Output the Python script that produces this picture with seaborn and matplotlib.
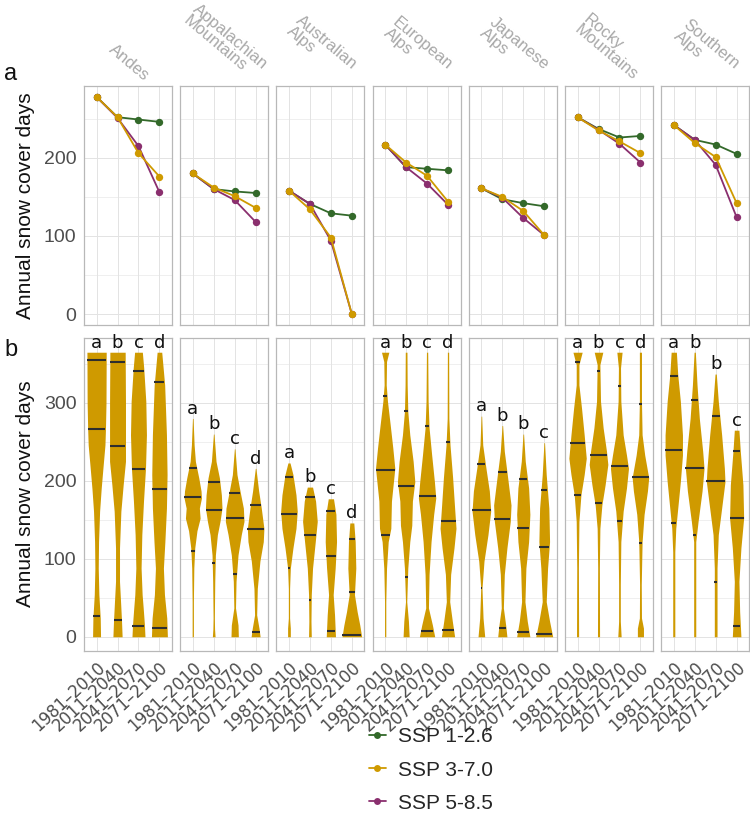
import numpy as np
import pandas as pd
import matplotlib
matplotlib.use("Agg")
import matplotlib.pyplot as plt
import seaborn as sns
from matplotlib.lines import Line2D

# ---------------- data ----------------
regions = ["Andes", "Appalachian\nMountains", "Australian\nAlps", "European\nAlps",
           "Japanese\nAlps", "Rocky\nMountains", "Southern\nAlps"]
periods = ["1981–2010", "2011–2040", "2041–2070", "2071–2100"]
scenarios = ["SSP 1-2.6", "SSP 3-7.0", "SSP 5-8.5"]

# panel a: mean annual snow cover days per region (rows) and period (cols)
ssp126 = [[278, 252, 249, 246], [180, 160, 157, 155], [158, 141, 129, 126],
          [217, 188, 186, 184], [161, 147, 142, 138], [252, 237, 226, 228],
          [242, 223, 217, 205]]
ssp370 = [[278, 252, 206, 176], [180, 162, 151, 136], [158, 134, 98, 0],
          [217, 194, 177, 144], [161, 150, 132, 101], [252, 235, 221, 206],
          [242, 219, 201, 142]]
ssp585 = [[278, 251, 215, 156], [180, 160, 146, 118], [158, 141, 94, 0],
          [217, 188, 167, 140], [161, 149, 123, 101], [252, 236, 218, 194],
          [242, 223, 191, 124]]

# panel b: violin outlines as (days, relative width)
violin_profiles = {
    "Andes": [
        [(0, .38), (24, .35), (54, .22), (88, .16), (122, .19), (161, .29), (190, .44), (220, .63), (246, .80), (267, .85), (300, .90), (365, .92)],
        [(0, .44), (21, .38), (45, .29), (71, .19), (114, .19), (161, .32), (195, .54), (225, .76), (300, .76), (365, .73)],
        [(0, .62), (15, .57), (37, .45), (54, .35), (88, .25), (131, .32), (174, .48), (216, .67), (259, .76), (302, .70), (345, .50), (365, .37)],
        [(0, .76), (24, .70), (54, .48), (88, .38), (122, .52), (165, .67), (208, .73), (259, .67), (323, .50), (365, .22)],
    ],
    "Appalachian\nMountains": [
        [(0, .06), (45, .06), (88, .10), (114, .19), (136, .40), (152, .70), (165, .63), (178, .83), (187, .79), (204, .57), (225, .25), (246, .13), (280, .03)],
        [(0, .13), (10, .08), (24, .06), (71, .10), (105, .16), (131, .35), (148, .60), (165, .79), (182, .73), (204, .54), (225, .22), (260, .03)],
        [(0, .35), (15, .32), (37, .08), (71, .13), (105, .32), (131, .63), (148, .89), (165, .83), (187, .51), (208, .22), (241, .03)],
        [(0, .43), (11, .32), (28, .10), (62, .16), (97, .41), (122, .73), (139, .79), (165, .54), (187, .29), (216, .03)],
    ],
    "Australian\nAlps": [
        [(0, .13), (11, .13), (24, .06), (62, .06), (88, .13), (114, .38), (139, .67), (161, .79), (182, .67), (208, .38), (223, .10)],
        [(0, .13), (20, .10), (54, .13), (88, .25), (122, .51), (148, .70), (174, .54), (192, .25)],
        [(0, .44), (28, .35), (54, .22), (88, .41), (122, .54), (157, .48), (177, .25)],
        [(0, .94), (15, .76), (32, .51), (54, .25), (88, .38), (122, .32), (146, .19)],
    ],
    "European\nAlps": [
        [(0, .06), (45, .06), (88, .13), (122, .29), (139, .54), (174, .60), (199, .79), (216, .92), (242, .73), (272, .48), (302, .22), (323, .10), (353, .13), (365, .35)],
        [(0, .29), (20, .22), (45, .06), (88, .16), (122, .35), (143, .54), (174, .60), (199, .83), (225, .67), (259, .35), (289, .16), (323, .10), (365, .08)],
        [(0, .73), (15, .51), (37, .13), (80, .19), (122, .38), (157, .63), (178, .83), (199, .70), (233, .44), (268, .19), (302, .10), (365, .06)],
        [(0, .63), (20, .41), (45, .16), (80, .25), (114, .57), (139, .76), (165, .63), (204, .44), (246, .19), (280, .08), (365, .06)],
    ],
    "Japanese\nAlps": [
        [(0, .32), (24, .16), (62, .06), (97, .25), (131, .63), (161, .89), (187, .76), (216, .44), (246, .13), (283, .03)],
        [(0, .44), (15, .32), (37, .10), (80, .19), (114, .44), (148, .76), (169, .83), (204, .51), (238, .19), (271, .03)],
        [(0, .63), (20, .38), (45, .16), (88, .25), (122, .51), (157, .63), (191, .51), (225, .19), (260, .03)],
        [(0, .81), (20, .51), (45, .19), (88, .32), (122, .51), (165, .44), (208, .19), (249, .03)],
    ],
    "Rocky\nMountains": [
        [(0, .10), (88, .08), (148, .13), (182, .32), (208, .63), (229, .83), (259, .63), (293, .38), (323, .13), (349, .13), (365, .44)],
        [(0, .10), (88, .08), (139, .13), (169, .32), (195, .63), (221, .89), (238, .76), (268, .44), (302, .19), (349, .13), (365, .41)],
        [(0, .16), (20, .08), (67, .08), (122, .13), (161, .35), (191, .67), (216, .86), (233, .67), (259, .35), (302, .13), (345, .10), (365, .25)],
        [(0, .29), (11, .29), (24, .10), (67, .08), (122, .16), (157, .35), (187, .67), (204, .79), (233, .41), (259, .16), (302, .10), (365, .10)],
    ],
    "Southern\nAlps": [
        [(0, .10), (109, .10), (139, .19), (165, .38), (199, .63), (233, .83), (259, .83), (302, .63), (336, .38), (365, .25)],
        [(0, .10), (122, .10), (148, .32), (187, .70), (216, .89), (238, .76), (280, .44), (323, .22), (365, .06)],
        [(0, .13), (88, .13), (131, .25), (165, .57), (199, .89), (216, .83), (259, .57), (302, .25), (337, .06)],
        [(0, .41), (32, .29), (71, .22), (114, .41), (152, .67), (195, .60), (238, .35), (265, .22)],
    ],
}

# quantile lines (5 %, 50 %, 95 %) per region and period
violin_quantiles = {
    "Andes": [(27, 266, 355), (21, 245, 353), (14, 215, 341), (11, 189, 327)],
    "Appalachian\nMountains": [(110, 179, 217), (95, 163, 199), (80, 152, 184), (6, 138, 169)],
    "Australian\nAlps": [(88, 158, 205), (47, 130, 179), (7, 104, 161), (2, 58, 125)],
    "European\nAlps": [(131, 214, 309), (77, 194, 290), (8, 180, 271), (9, 148, 250)],
    "Japanese\nAlps": [(62, 162, 221), (11, 151, 212), (6, 139, 203), (4, 115, 188)],
    "Rocky\nMountains": [(182, 248, 353), (171, 233, 341), (149, 219, 322), (120, 205, 298)],
    "Southern\nAlps": [(146, 239, 335), (130, 217, 304), (70, 200, 283), (14, 152, 238)],
}

# significance letters
letters = {
    "Andes": ["a", "b", "c", "d"],
    "Appalachian\nMountains": ["a", "b", "c", "d"],
    "Australian\nAlps": ["a", "b", "c", "d"],
    "European\nAlps": ["a", "b", "c", "d"],
    "Japanese\nAlps": ["a", "b", "b", "c"],
    "Rocky\nMountains": ["a", "b", "c", "d"],
    "Southern\nAlps": ["a", "b", "b", "c"],
}

# ---------------- style ----------------
GREEN, GOLD, PURPLE = "#33692A", "#CF9A00", "#8A2F6E"
palette = {"SSP 1-2.6": GREEN, "SSP 3-7.0": GOLD, "SSP 5-8.5": PURPLE}
BORDER = "#B8B8B8"
GRID = "#E3E3E3"
TICKTXT = "#4D4D4D"

sns.set_theme(style="white")
plt.rcParams["font.family"] = ["Liberation Sans", "DejaVu Sans"]

W, H = 750, 822
fig = plt.figure(figsize=(W / 100, H / 100), dpi=100)

pan_left0, pan_step, pan_w = 84, 96.2, 88
top_y0, top_y1 = 86, 325
bot_y0, bot_y1 = 338, 651


def axrect(i, y0, y1):
    return [(pan_left0 + pan_step * i) / W, 1 - y1 / H, pan_w / W, (y1 - y0) / H]


def style_axis(ax, first, show_xlabels, yticks, yminor):
    ax.set_xlim(-0.6, 3.6)
    ax.set_xticks(range(4))
    ax.set_yticks(yticks)
    ax.set_yticks(yminor, minor=True)
    ax.grid(True, which="major", color=GRID, lw=0.7, zorder=0)
    ax.yaxis.grid(True, which="minor", color=GRID, lw=0.4, zorder=0)
    ax.set_axisbelow(True)
    for s in ax.spines.values():
        s.set_color(BORDER)
        s.set_linewidth(0.9)
    ax.tick_params(axis="both", which="major", length=3.5, width=0.7, color=BORDER,
                   labelsize=14, labelcolor=TICKTXT, pad=2)
    ax.tick_params(axis="y", which="minor", length=0)
    if show_xlabels:
        ax.set_xticklabels(periods, rotation=43, ha="right", rotation_mode="anchor",
                           fontsize=12, color=TICKTXT, family="DejaVu Sans")
    else:
        ax.set_xticklabels([])
    if not first:
        ax.tick_params(axis="y", length=0, labelleft=False)
    ax.set_xlabel("")
    ax.set_ylabel("")


# ---------------- panel a ----------------
draw_order = ["SSP 1-2.6", "SSP 5-8.5", "SSP 3-7.0"]
for i, reg in enumerate(regions):
    ax = fig.add_axes(axrect(i, top_y0, top_y1))
    df = pd.DataFrame({
        "period": periods * 3,
        "days": ssp126[i] + ssp370[i] + ssp585[i],
        "ssp": [s for s in scenarios for _ in periods],
    })
    sns.lineplot(data=df, x="period", y="days", hue="ssp", hue_order=draw_order,
                 palette=palette, marker="o", markersize=5.3, markeredgewidth=0,
                 linewidth=1.3, legend=False, ax=ax, sort=False)
    ax.set_ylim(-13.9, 291.9)
    style_axis(ax, i == 0, False, [0, 100, 200], [50, 150, 250])
    ax.annotate(reg, xy=(0.5, 1.0), xycoords="axes fraction", xytext=(1, 2),
                textcoords="offset points", rotation=-40, ha="center", va="bottom",
                multialignment="left", fontsize=12, color="#A8A8A8",
                family="Liberation Sans", annotation_clip=False, linespacing=0.95)

# ---------------- panel b ----------------
for i, reg in enumerate(regions):
    ax = fig.add_axes(axrect(i, bot_y0, bot_y1))
    for j in range(4):
        prof = np.array(violin_profiles[reg][j], dtype=float)
        ys, ws = prof[:, 0], prof[:, 1]
        ax.fill_betweenx(ys, j - ws / 2, j + ws / 2, color=GOLD, lw=0, zorder=2)
        for q in violin_quantiles[reg][j]:
            w = np.interp(q, ys, ws)
            ax.plot([j - w / 2, j + w / 2], [q, q], color="#2E2E2E", lw=1.5,
                    solid_capstyle="butt", zorder=3)
        ax.text(j, ys.max() + 6, letters[reg][j], ha="center", va="baseline",
                fontsize=13, color="#111111", family="DejaVu Sans", clip_on=False,
                zorder=4)
    ax.set_ylim(-18.25, 383.25)
    style_axis(ax, i == 0, True, [0, 100, 200, 300], [50, 150, 250, 350])

# ---------------- titles, tags, legend ----------------
fig.text(26 / W, 1 - 206 / H, "Annual snow cover days", rotation=90, ha="center",
         va="center", fontsize=15, color="#111111")
fig.text(26 / W, 1 - 494 / H, "Annual snow cover days", rotation=90, ha="center",
         va="center", fontsize=15, color="#111111")
fig.text(11 / W, 1 - 74 / H, "a", ha="center", va="center", fontsize=17, color="#111111")
fig.text(11 / W, 1 - 350 / H, "b", ha="center", va="center", fontsize=17, color="#111111")

handles = [Line2D([0], [0], color=palette[s], marker="o", markersize=5,
                  markeredgewidth=0, lw=1.3) for s in scenarios]
fig.legend(handles, scenarios, loc="center", bbox_to_anchor=(0.575, 1 - 770 / H),
           frameon=False, fontsize=15, handlelength=0.8, labelspacing=0.68,
           handletextpad=0.6)

fig.savefig("out.png", dpi=100)
